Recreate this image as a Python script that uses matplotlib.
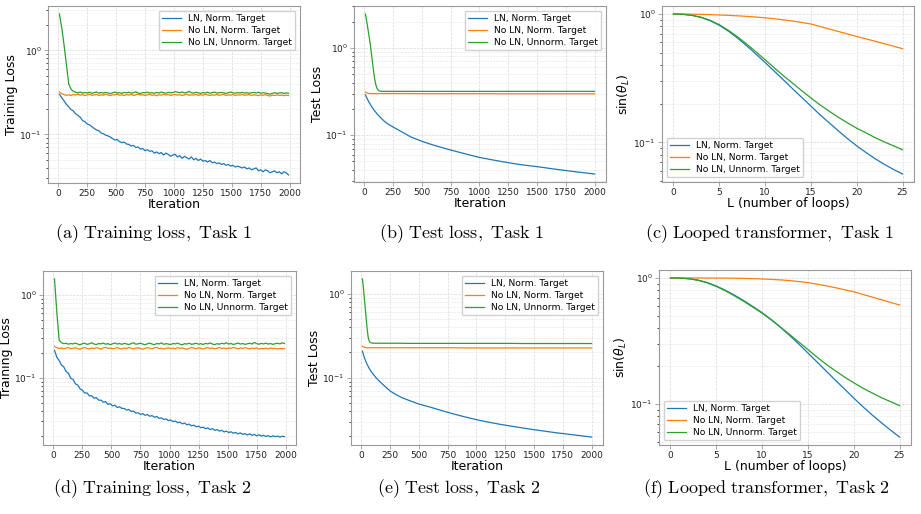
import numpy as np
import matplotlib
matplotlib.use("Agg")
import matplotlib.pyplot as plt
from matplotlib.ticker import NullFormatter, MultipleLocator

# ---------------- data ----------------
labels = ["LN, Norm. Target", "No LN, Norm. Target", "No LN, Unnorm. Target"]
colors = ["#1f77b4", "#ff7f0e", "#2ca02c"]

train_iter = np.arange(10, 2000, 20)

train1_ln = [
    0.300, 0.272, 0.250, 0.228, 0.212, 0.198, 0.190, 0.176, 0.168, 0.160,
    0.146, 0.142, 0.133, 0.130, 0.124, 0.118, 0.113, 0.111, 0.104, 0.102,
    0.098, 0.096, 0.093, 0.089, 0.086, 0.087, 0.082, 0.080, 0.081, 0.077,
    0.076, 0.073, 0.074, 0.070, 0.071, 0.067, 0.068, 0.064, 0.066, 0.063,
    0.064, 0.060, 0.062, 0.059, 0.061, 0.057, 0.060, 0.058, 0.055, 0.057,
    0.058, 0.054, 0.056, 0.052, 0.055, 0.053, 0.051, 0.054, 0.050, 0.052,
    0.049, 0.051, 0.048, 0.049, 0.047, 0.049, 0.046, 0.047, 0.045, 0.046,
    0.044, 0.045, 0.043, 0.044, 0.042, 0.043, 0.041, 0.042, 0.041, 0.040,
    0.041, 0.039, 0.040, 0.038, 0.039, 0.040, 0.037, 0.038, 0.036, 0.038,
    0.037, 0.035, 0.036, 0.037, 0.035, 0.036, 0.034, 0.036, 0.035, 0.033,
]
train1_noln = [
    0.320, 0.305, 0.298, 0.292, 0.296, 0.290, 0.299, 0.294, 0.301, 0.293,
    0.297, 0.290, 0.296, 0.300, 0.292, 0.295, 0.299, 0.291, 0.296, 0.293,
    0.300, 0.294, 0.289, 0.297, 0.295, 0.301, 0.292, 0.296, 0.290, 0.298,
    0.294, 0.299, 0.291, 0.295, 0.302, 0.293, 0.297, 0.290, 0.296, 0.299,
    0.292, 0.295, 0.288, 0.297, 0.293, 0.300, 0.294, 0.298, 0.291, 0.296,
    0.299, 0.293, 0.297, 0.290, 0.295, 0.301, 0.292, 0.296, 0.294, 0.299,
    0.291, 0.297, 0.293, 0.300, 0.295, 0.290, 0.296, 0.293, 0.298, 0.292,
    0.296, 0.299, 0.291, 0.295, 0.293, 0.298, 0.290, 0.296, 0.294, 0.299,
    0.292, 0.295, 0.297, 0.291, 0.296, 0.293, 0.289, 0.295, 0.292, 0.297,
    0.290, 0.286, 0.293, 0.290, 0.295, 0.291, 0.294, 0.289, 0.293, 0.290,
]
train1_unnorm = [
    2.700, 1.850, 1.150, 0.680, 0.400, 0.345, 0.325, 0.318, 0.312, 0.320,
    0.309, 0.316, 0.311, 0.318, 0.308, 0.314, 0.320, 0.310, 0.315, 0.309,
    0.317, 0.311, 0.306, 0.313, 0.319, 0.310, 0.314, 0.308, 0.316, 0.312,
    0.318, 0.309, 0.313, 0.321, 0.311, 0.306, 0.315, 0.312, 0.318, 0.310,
    0.314, 0.308, 0.316, 0.311, 0.319, 0.313, 0.309, 0.317, 0.312, 0.315,
    0.322, 0.318, 0.313, 0.320, 0.311, 0.316, 0.324, 0.314, 0.310, 0.317,
    0.312, 0.308, 0.315, 0.311, 0.318, 0.309, 0.314, 0.319, 0.310, 0.313,
    0.316, 0.311, 0.308, 0.314, 0.320, 0.312, 0.309, 0.315, 0.311, 0.317,
    0.310, 0.314, 0.308, 0.313, 0.316, 0.311, 0.318, 0.309, 0.313, 0.310,
    0.306, 0.301, 0.309, 0.313, 0.308, 0.311, 0.314, 0.307, 0.312, 0.309,
]

train2_ln = [
    0.215, 0.178, 0.162, 0.143, 0.136, 0.119, 0.114, 0.099, 0.096, 0.085,
    0.082, 0.074, 0.071, 0.066, 0.066, 0.061, 0.061, 0.057, 0.058, 0.054,
    0.054, 0.051, 0.052, 0.048, 0.049, 0.046, 0.047, 0.044, 0.045, 0.043,
    0.043, 0.041, 0.0418, 0.0395, 0.040, 0.0378, 0.038, 0.0365, 0.0372, 0.0355,
    0.0362, 0.0346, 0.0352, 0.0336, 0.0344, 0.0326, 0.0331, 0.0316, 0.0322, 0.0306,
    0.0312, 0.0298, 0.0303, 0.0289, 0.0294, 0.0280, 0.0286, 0.0273, 0.0278, 0.0265,
    0.0270, 0.0258, 0.0263, 0.0251, 0.0256, 0.0245, 0.0250, 0.0239, 0.0245, 0.0234,
    0.0239, 0.0229, 0.0234, 0.0224, 0.0229, 0.0220, 0.0225, 0.0216, 0.0221, 0.0212,
    0.0218, 0.0209, 0.0214, 0.0206, 0.0212, 0.0204, 0.0209, 0.0201, 0.0207, 0.0199,
    0.0204, 0.0197, 0.0202, 0.0195, 0.0201, 0.0196, 0.0200, 0.0194, 0.0199, 0.0196,
]
train2_noln = [
    0.240, 0.232, 0.226, 0.230, 0.224, 0.229, 0.233, 0.225, 0.228, 0.231,
    0.226, 0.222, 0.229, 0.233, 0.227, 0.224, 0.230, 0.226, 0.232, 0.228,
    0.223, 0.229, 0.234, 0.226, 0.230, 0.225, 0.228, 0.232, 0.227, 0.224,
    0.230, 0.226, 0.233, 0.228, 0.224, 0.229, 0.231, 0.226, 0.222, 0.228,
    0.232, 0.227, 0.225, 0.230, 0.234, 0.226, 0.229, 0.223, 0.228, 0.231,
    0.226, 0.229, 0.224, 0.232, 0.227, 0.230, 0.225, 0.221, 0.228, 0.233,
    0.229, 0.225, 0.231, 0.227, 0.223, 0.229, 0.232, 0.226, 0.230, 0.224,
    0.228, 0.233, 0.226, 0.229, 0.225, 0.231, 0.227, 0.234, 0.228, 0.225,
    0.230, 0.226, 0.232, 0.228, 0.224, 0.229, 0.226, 0.231, 0.222, 0.227,
    0.225, 0.229, 0.224, 0.230, 0.226, 0.228, 0.223, 0.227, 0.225, 0.226,
]
train2_unnorm = [
    1.560, 0.620, 0.285, 0.266, 0.259, 0.262, 0.255, 0.260, 0.257, 0.263,
    0.256, 0.251, 0.259, 0.262, 0.254, 0.258, 0.265, 0.256, 0.253, 0.260,
    0.257, 0.263, 0.255, 0.259, 0.252, 0.258, 0.264, 0.256, 0.260, 0.254,
    0.261, 0.257, 0.253, 0.259, 0.266, 0.255, 0.258, 0.262, 0.256, 0.251,
    0.258, 0.263, 0.256, 0.252, 0.260, 0.257, 0.265, 0.254, 0.259, 0.256,
    0.253, 0.260, 0.257, 0.263, 0.255, 0.251, 0.259, 0.256, 0.262, 0.254,
    0.258, 0.262, 0.255, 0.259, 0.253, 0.261, 0.257, 0.264, 0.256, 0.252,
    0.259, 0.255, 0.262, 0.257, 0.266, 0.256, 0.260, 0.253, 0.258, 0.263,
    0.256, 0.260, 0.254, 0.258, 0.262, 0.256, 0.268, 0.259, 0.255, 0.261,
    0.257, 0.263, 0.256, 0.260, 0.254, 0.259, 0.262, 0.257, 0.265, 0.260,
]

test_iter = [10, 20, 30, 40, 50, 60, 70, 80, 90, 100, 110, 120, 130, 140, 150,
             175, 200, 250, 300, 350, 400, 500, 600, 700, 800, 900, 1000, 1100,
             1200, 1300, 1400, 1500, 1600, 1700, 1800, 1900, 2000]

test1_ln = [0.290, 0.270, 0.255, 0.240, 0.228, 0.217, 0.207, 0.198, 0.190, 0.183,
            0.176, 0.170, 0.165, 0.160, 0.155, 0.144, 0.136, 0.124, 0.114, 0.105,
            0.096, 0.085, 0.077, 0.0705, 0.065, 0.060, 0.0556, 0.0525, 0.0497,
            0.0472, 0.0452, 0.0436, 0.0418, 0.0401, 0.0386, 0.0372, 0.0359]
test1_noln = [0.312, 0.306, 0.303, 0.301, 0.300, 0.300, 0.300, 0.300, 0.300, 0.300,
              0.300, 0.300, 0.300, 0.300, 0.300, 0.300, 0.300, 0.300, 0.300, 0.300,
              0.300, 0.299, 0.299, 0.299, 0.299, 0.299, 0.299, 0.299, 0.298, 0.298,
              0.298, 0.298, 0.298, 0.298, 0.298, 0.298, 0.298]
test1_unnorm = [2.45, 2.05, 1.70, 1.40, 1.15, 0.90, 0.70, 0.55, 0.44, 0.38,
                0.345, 0.330, 0.322, 0.319, 0.318, 0.318, 0.318, 0.318, 0.318, 0.318,
                0.318, 0.318, 0.318, 0.318, 0.318, 0.318, 0.318, 0.318, 0.318, 0.318,
                0.318, 0.318, 0.318, 0.318, 0.318, 0.318, 0.318]

test2_ln = [0.207, 0.185, 0.168, 0.155, 0.145, 0.136, 0.128, 0.122, 0.116, 0.112,
            0.107, 0.103, 0.099, 0.096, 0.093, 0.086, 0.080, 0.0695, 0.063, 0.058,
            0.0545, 0.0485, 0.0445, 0.0405, 0.037, 0.0341, 0.0316, 0.0296, 0.0279,
            0.0265, 0.0252, 0.0240, 0.0230, 0.0220, 0.0212, 0.0204, 0.0196]
test2_noln = [0.236, 0.232, 0.229, 0.228, 0.227, 0.227, 0.227, 0.227, 0.227, 0.227,
              0.227, 0.227, 0.227, 0.227, 0.227, 0.227, 0.227, 0.227, 0.227, 0.227,
              0.227, 0.227, 0.227, 0.227, 0.227, 0.226, 0.226, 0.226, 0.226, 0.226,
              0.226, 0.226, 0.226, 0.226, 0.226, 0.226, 0.226]
test2_unnorm = [1.50, 1.10, 0.78, 0.55, 0.39, 0.30, 0.270, 0.262, 0.259, 0.258,
                0.257, 0.257, 0.257, 0.257, 0.257, 0.257, 0.257, 0.257, 0.257, 0.257,
                0.256, 0.256, 0.256, 0.256, 0.256, 0.256, 0.256, 0.256, 0.256, 0.256,
                0.255, 0.255, 0.255, 0.255, 0.255, 0.255, 0.255]

loops = list(range(26))
loop1_ln = [1.0, 0.995, 0.977, 0.942, 0.887, 0.817, 0.735, 0.649, 0.565, 0.488,
            0.419, 0.359, 0.307, 0.262, 0.224, 0.192, 0.164, 0.142, 0.123, 0.107,
            0.094, 0.0836, 0.0748, 0.0676, 0.0617, 0.0568]
loop1_noln = [1.0, 0.999, 0.997, 0.994, 0.989, 0.983, 0.976, 0.968, 0.958, 0.947,
              0.934, 0.919, 0.901, 0.881, 0.859, 0.836, 0.799, 0.764, 0.731, 0.699,
              0.668, 0.641, 0.614, 0.587, 0.562, 0.537]
loop1_unnorm = [1.0, 0.995, 0.977, 0.944, 0.893, 0.826, 0.746, 0.664, 0.583, 0.508,
                0.440, 0.381, 0.331, 0.289, 0.253, 0.222, 0.196, 0.175, 0.157, 0.142,
                0.129, 0.119, 0.109, 0.101, 0.0942, 0.0877]

loop2_ln = [1.0, 0.998, 0.986, 0.962, 0.920, 0.863, 0.798, 0.730, 0.661, 0.594,
            0.531, 0.468, 0.407, 0.351, 0.300, 0.255, 0.216, 0.183, 0.155, 0.132,
            0.112, 0.0957, 0.0824, 0.0716, 0.0625, 0.0550]
loop2_noln = [1.0, 1.0, 1.0, 0.999, 0.999, 0.998, 0.997, 0.995, 0.992, 0.988,
              0.982, 0.974, 0.965, 0.953, 0.937, 0.918, 0.893, 0.866, 0.837, 0.807,
              0.778, 0.741, 0.706, 0.673, 0.641, 0.611]
loop2_unnorm = [1.0, 0.998, 0.986, 0.959, 0.916, 0.857, 0.791, 0.721, 0.653, 0.587,
                0.526, 0.466, 0.409, 0.357, 0.311, 0.271, 0.236, 0.207, 0.184, 0.164,
                0.148, 0.134, 0.123, 0.113, 0.105, 0.0975]

captions = ["(a) Training loss, Task 1", "(b) Test loss, Task 1",
            "(c) Looped transformer, Task 1", "(d) Training loss, Task 2",
            "(e) Test loss, Task 2", "(f) Looped transformer, Task 2"]

# ---------------- figure ----------------
W, H = 921, 514
fig = plt.figure(figsize=(W / 100, H / 100), dpi=100)

def px_axes(l, t, r, b):
    return fig.add_axes([l / W, 1 - b / H, (r - l) / W, (b - t) / H])

panels = [
    (px_axes(48, 6, 300, 183), train_iter, (train1_ln, train1_noln, train1_unnorm),
     "Iteration", "Training Loss", "upper right", 250),
    (px_axes(354, 6, 606, 182), test_iter, (test1_ln, test1_noln, test1_unnorm),
     "Iteration", "Test Loss", "upper right", 250),
    (px_axes(662, 6, 914, 182), loops, (loop1_ln, loop1_noln, loop1_unnorm),
     "L (number of loops)", r"$\sin(\theta_L)$", "lower left", 5),
    (px_axes(43, 271, 296, 445), train_iter, (train2_ln, train2_noln, train2_unnorm),
     "Iteration", "Training Loss", "upper right", 250),
    (px_axes(351, 271, 603, 445), test_iter, (test2_ln, test2_noln, test2_unnorm),
     "Iteration", "Test Loss", "upper right", 250),
    (px_axes(659, 270, 911, 445), loops, (loop2_ln, loop2_noln, loop2_unnorm),
     "L (number of loops)", r"$\sin(\theta_L)$", "lower left", 5),
]

for ax, x, series, xl, yl, loc, xstep in panels:
    for ys, lab, c in zip(series, labels, colors):
        ax.plot(x, ys, color=c, lw=0.9, label=lab)
    ax.set_yscale("log")
    ax.xaxis.set_major_locator(MultipleLocator(xstep))
    ax.yaxis.set_minor_formatter(NullFormatter())
    ax.grid(True, which="major", color="#d8d8d8", ls="--", lw=0.5)
    ax.grid(True, which="minor", axis="y", color="#e4e4e4", ls="--", lw=0.4)
    ax.set_axisbelow(True)
    for s in ax.spines.values():
        s.set_color("#999999")
        s.set_linewidth(0.8)
    ax.tick_params(labelsize=6.5, colors="#999999", labelcolor="#222222",
                   length=3, width=0.6, pad=1.5)
    ax.tick_params(which="minor", length=1.8, width=0.5)
    ax.set_xlabel(xl, fontsize=9, labelpad=0)
    ax.set_ylabel(yl, fontsize=9, labelpad=1)
    ax.legend(loc=loc, fontsize=6.6, frameon=True, fancybox=True,
              edgecolor="#cccccc", framealpha=0.9, borderpad=0.4,
              labelspacing=0.3, handlelength=2.0)

cap_pos = [(154, 234), (461, 234), (769, 234), (152, 489), (459, 489), (766, 489)]
for (cx, cy), cap in zip(cap_pos, captions):
    txt = r"$\mathrm{" + cap.replace(" ", r"\ ") + "}$"
    fig.text(cx / W, 1 - cy / H, txt, ha="center", va="center",
             fontsize=13, math_fontfamily="cm")

fig.savefig("out.png", dpi=100)
